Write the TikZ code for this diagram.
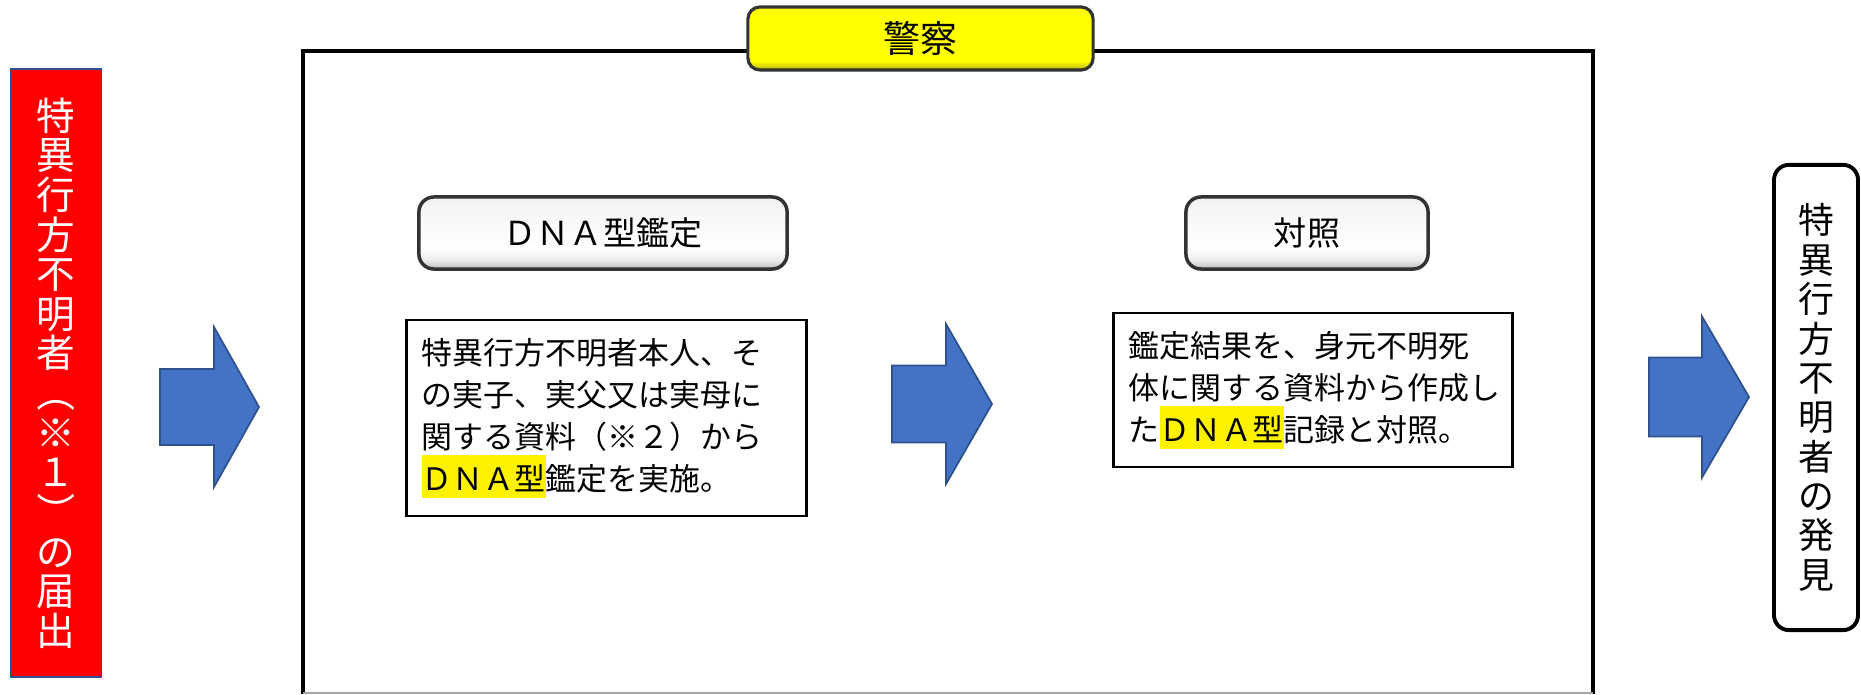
\documentclass[tikz,border=0pt]{standalone}
\usepackage{fontspec}
\setmainfont{Noto Sans CJK JP}
\usepackage{xcolor}
\usepackage{graphicx}
\usepackage{tikz}
\definecolor{arrowfill}{HTML}{4472C4}
\definecolor{arrowline}{HTML}{2F528F}
\pgfdeclareverticalshading{btnshade}{100bp}{color(0bp)=(gray!55); color(25bp)=(gray!55); color(31bp)=(gray!15); color(40bp)=(white); color(70bp)=(gray!8); color(75bp)=(gray!12); color(100bp)=(gray!12)}
\pgfdeclareverticalshading{policeshade}{100bp}{color(0bp)=(yellow!70!black); color(25bp)=(yellow!70!black); color(32bp)=(yellow); color(75bp)=(yellow); color(100bp)=(yellow)}
\newcommand{\hlt}[1]{{\setlength{\fboxsep}{0pt}\colorbox{yellow}{\rule[-0.23em]{0pt}{1.39em}#1}}}
\newcommand{\vparen}[1]{\rotatebox[origin=c]{-90}{#1}}
\tikzset{
    boxnode/.style = {align=center, inner sep=0pt, text centered},
    red_node/.style = {boxnode, rectangle, white, draw=arrowline, fill=red, thin, font={\fontsize{11}{11.27}\selectfont\lineskiplimit=-100pt}},
    find_node/.style = {boxnode, rectangle, rounded corners=0.15cm, draw=black, fill=white, line width=1.1pt, font={\fontsize{10.2}{11.2}\selectfont\lineskiplimit=-100pt}},
    police_node/.style = {boxnode, rectangle, rounded corners=0.12cm, draw=black!80, line width=0.9pt, shading=policeshade, font=\fontsize{10.5}{12}\selectfont},
    btn_node/.style = {boxnode, rectangle, rounded corners=0.15cm, draw=black!80, line width=1pt, shading=btnshade, font=\fontsize{9.4}{11}\selectfont},
    memo_node/.style = {boxnode, rectangle, draw=black, fill=white, line width=0.7pt, align=left, inner xsep=0.155cm, font={\fontsize{8.8}{11.95}\selectfont\lineskiplimit=-100pt}},
    block_arrow/.style = {fill=arrowfill, draw=arrowline, line width=0.5pt, line join=miter},
    frame_line/.style = {draw=black, line width=1.05pt}
}
\begin{document}
\begin{tikzpicture}[x=0.01cm, y=-0.01cm]
    \useasboundingbox (0,0) rectangle (1861,694);

    % frame of the police part
    \draw[frame_line] (303,694) -- (303,51) -- (1593,51) -- (1593,694);
    \draw[gray!70, thin] (303,693) -- (1593,693);

    % block arrows: left / base / tip / middle / half shaft / half head
    \foreach \l/\b/\t/\m/\s/\h in {160/214/259/407/38/80, 892/946/992/404/38.5/80, 1649/1702/1749/397/39.5/80.5}
        \draw[block_arrow] (\l,\m-\s) -- (\b,\m-\s) -- (\b,\m-\h) -- (\t,\m)
            -- (\b,\m+\h) -- (\b,\m+\s) -- (\l,\m+\s) -- cycle;

    \node[red_node, minimum width=0.91cm, minimum height=6.08cm] (report) at (56,373)
        {特\\異\\行\\方\\不\\明\\者\\\vparen{（}\\※\\１\\\vparen{）}\\の\\届\\出};

    \node[police_node, minimum width=3.45cm, minimum height=0.63cm] (police) at (920.5,38.5) {警察};

    \node[btn_node, minimum width=3.68cm, minimum height=0.72cm] (btn_dna) at (603,233) {ＤＮＡ型鑑定};
    \node[btn_node, minimum width=2.42cm, minimum height=0.72cm] (btn_match) at (1307,233) {対照};

    \node[memo_node, text width=3.69cm, minimum height=1.96cm] (memo_dna) at (606.5,418)
        {特異行方不明者本人、そ\\の実子、実父又は実母に\\関する資料（※２）から\\\hlt{ＤＮＡ型}鑑定を実施。};
    \node[memo_node, text width=3.68cm, minimum height=1.54cm] (memo_match) at (1313,390)
        {鑑定結果を、身元不明死\\体に関する資料から作成し\\た\hlt{ＤＮＡ型}記録と対照。};

    \node[find_node, minimum width=0.84cm, minimum height=4.65cm] (found) at (1816,397.5)
        {特\\異\\行\\方\\不\\明\\者\\の\\発\\見};
\end{tikzpicture}
\end{document}
